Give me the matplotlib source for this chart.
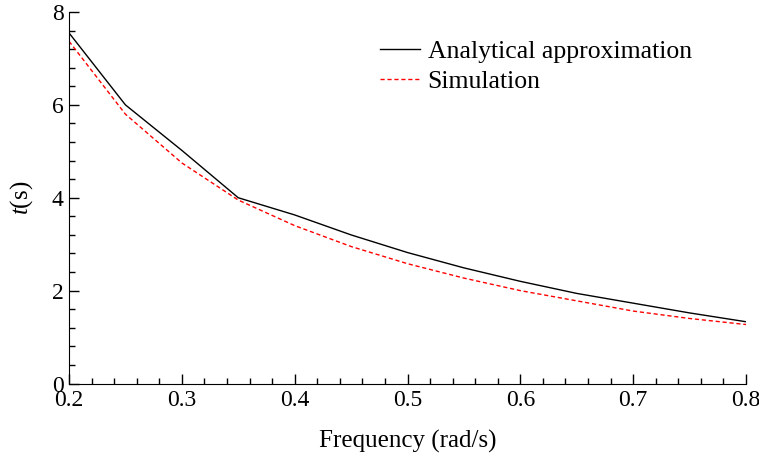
import numpy as np
import matplotlib.pyplot as plt
from matplotlib.ticker import MultipleLocator

# Data
freq = [0.20, 0.25, 0.30, 0.35, 0.40, 0.45, 0.50, 0.55, 0.60, 0.65, 0.70, 0.75, 0.80]
t_analytical = [7.55, 6.00, 5.02, 4.00, 3.63, 3.20, 2.82, 2.49, 2.20, 1.94, 1.73, 1.52, 1.33]
t_simulation = [7.37, 5.80, 4.75, 3.95, 3.40, 2.95, 2.58, 2.27, 2.00, 1.78, 1.56, 1.40, 1.27]

plt.rcParams['font.family'] = 'Liberation Serif'
plt.rcParams['mathtext.fontset'] = 'custom'
plt.rcParams['mathtext.it'] = 'Liberation Serif:italic'
plt.rcParams['mathtext.rm'] = 'Liberation Serif'

fig = plt.figure(figsize=(7.59, 4.57), dpi=100)
ax = fig.add_axes([69 / 759, 1 - 383.5 / 457, (746 - 69) / 759, (383.5 - 12) / 457])

ax.plot(freq, t_analytical, color='black', linewidth=1.0, label='Analytical approximation')
ax.plot(freq, t_simulation, color='red', linewidth=1.0, linestyle=(0, (3, 2)), label='Simulation')

ax.set_xlim(0.2, 0.8)
ax.set_ylim(0, 8)
ax.xaxis.set_major_locator(MultipleLocator(0.1))
ax.xaxis.set_minor_locator(MultipleLocator(0.02))
ax.yaxis.set_major_locator(MultipleLocator(2))
ax.yaxis.set_minor_locator(MultipleLocator(0.4))

ax.spines['top'].set_visible(False)
ax.spines['right'].set_visible(False)
ax.tick_params(which='both', direction='in', top=False, right=False, labelsize=17, width=1.0)
ax.tick_params(which='major', length=7)
ax.tick_params(which='minor', length=4)
ax.tick_params(axis='x', pad=5)
ax.tick_params(axis='y', pad=4)

ax.set_xlabel('Frequency (rad/s)', fontsize=18, labelpad=13)
ax.set_ylabel('$t$(s)', fontsize=18, labelpad=12)

ax.legend(loc='upper left', bbox_to_anchor=(357 / 759, 1 - 17 / 457), bbox_transform=fig.transFigure,
          frameon=False, fontsize=18.5, handlelength=1.55, handletextpad=0.3, labelspacing=0.28)

fig.savefig('out.png', dpi=100)
